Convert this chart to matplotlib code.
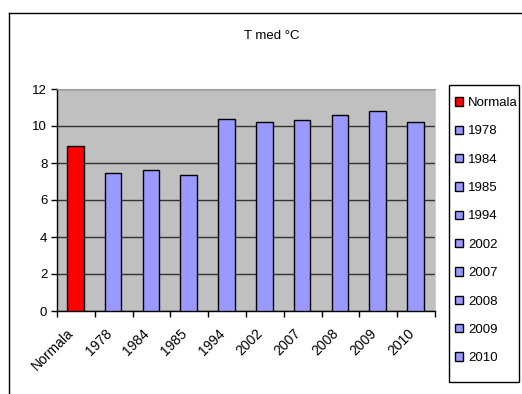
import matplotlib
matplotlib.use('Agg')
import matplotlib.pyplot as plt
from matplotlib.lines import Line2D
from matplotlib.patches import Rectangle

categories = ["Normala", "1978", "1984", "1985", "1994", "2002", "2007", "2008", "2009", "2010"]
t_med = [8.9, 7.45, 7.6, 7.35, 10.4, 10.2, 10.3, 10.6, 10.8, 10.2]
colors = ["#FF0000"] + ["#9999FF"] * 9

W, H = 522, 394
FS = 9.5
plt.rcParams['font.family'] = ['Liberation Sans', 'DejaVu Sans']

fig = plt.figure(figsize=(W / 100, H / 100), dpi=100)
ax = fig.add_axes([57 / W, 1 - 311 / H, 378 / W, 222 / H])
ax.set_facecolor("#C0C0C0")

# one series per category, as in the source spreadsheet
for i, (cat, val, col) in enumerate(zip(categories, t_med, colors)):
    ax.bar(i - 0.015, val, width=0.44, color=col, edgecolor="black",
           linewidth=1.0, label=cat, zorder=3)

ax.set_xlim(-0.5, len(categories) - 0.5)
ax.set_ylim(0, 12)
ax.set_yticks(range(0, 13, 2))
ax.yaxis.grid(True, color="#333333", linewidth=1.0, zorder=1)
ax.set_axisbelow(True)

# rotated labels sit a little left of the category centre
ax.set_xticks([i - 0.24 for i in range(len(categories))])
ax.set_xticklabels(categories, rotation=45, ha="right", va="top",
                   rotation_mode="anchor", fontsize=10)
ax.set_xticks([i - 0.5 for i in range(len(categories) + 1)], minor=True)
ax.tick_params(axis="x", which="major", length=0, pad=11)
ax.tick_params(axis="x", which="minor", length=4, width=1, direction="out")
ax.tick_params(axis="y", length=4, width=1, direction="out", labelsize=FS, pad=3)

for side in ("left", "bottom"):
    ax.spines[side].set_color("black")
    ax.spines[side].set_linewidth(1.0)
ax.spines["top"].set_color("#A0A0A0")
ax.spines["right"].set_color("#D0D0D0")

fig.text(272 / W, 1 - 36 / H, "T med °C", ha="center", va="center", fontsize=FS)

leg = ax.legend(loc="upper left", bbox_to_anchor=(455 / W, 1 - 97 / H),
                bbox_transform=fig.transFigure, frameon=False,
                fontsize=FS, handlelength=0.6, handleheight=0.6,
                handletextpad=0.4, labelspacing=1.24, borderpad=0,
                borderaxespad=0)
for p in leg.get_patches():
    p.set_linewidth(1.0)

# legend frame
fig.add_artist(Rectangle((449 / W, 1 - 382 / H), 70 / W, 297 / H,
                         transform=fig.transFigure, fill=False,
                         edgecolor="black", linewidth=1.0))

# chart area border
fig.add_artist(Line2D([9 / W, 1], [1 - 13 / H] * 2, color="black", lw=1.0,
                      transform=fig.transFigure))
fig.add_artist(Line2D([9 / W] * 2, [0, 1 - 13 / H], color="black", lw=1.0,
                      transform=fig.transFigure))

fig.savefig("out.png", dpi=100)
